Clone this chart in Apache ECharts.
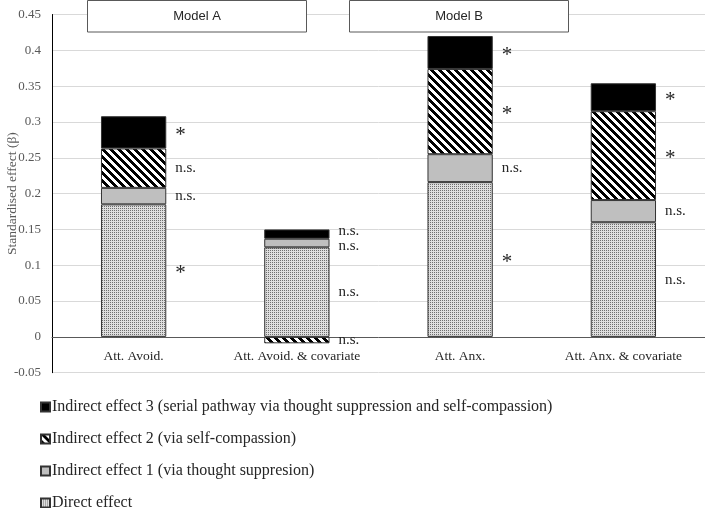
<!DOCTYPE html>
<html>
<head>
<meta charset="utf-8">
<script src="https://cdn.jsdelivr.net/npm/echarts@6/dist/echarts.min.js"></script>
<style>html,body{margin:0;padding:0;background:#fff}#c{width:705px;height:508px}</style>
</head>
<body>
<div id="c"></div>
<script>
const categories = ['Att. Avoid.', 'Att. Avoid. & covariate', 'Att. Anx.', 'Att. Anx. & covariate'];
const seriesNames = [
  'Direct effect',
  'Indirect effect 1 (via thought suppresion)',
  'Indirect effect 2 (via self-compassion)',
  'Indirect effect 3 (serial pathway via thought suppression and self-compassion)'
];
const directEffect = [0.185, 0.125, 0.216, 0.160];
const indirect1 = [0.023, 0.012, 0.039, 0.031];
const indirect2 = [0.055, -0.009, 0.119, 0.124];
const indirect3 = [0.045, 0.013, 0.046, 0.039];
const sigDirect = ['*', 'n.s.', '*', 'n.s.'];
const sigInd1 = ['n.s.', 'n.s.', 'n.s.', 'n.s.'];
const sigInd2 = ['n.s.', 'n.s.', '*', '*'];
const sigInd3 = ['*', 'n.s.', '*', '*'];
const modelLabels = ['Model A', 'Model B'];
const yTicks = { min: -0.05, max: 0.45, interval: 0.05 };

function tile(w, h, fn) {
  const c = document.createElement('canvas');
  c.width = w; c.height = h;
  const ctx = c.getContext('2d');
  for (let y = 0; y < h; y++) for (let x = 0; x < w; x++) {
    ctx.fillStyle = fn(x, y);
    ctx.fillRect(x, y, 1, 1);
  }
  return c;
}
const dotPattern = { image: tile(2, 2, (x, y) => (x === 0 && y === 0) ? '#6e6e6e' : '#dedede'), repeat: 'repeat' };
const hatchPattern = { image: tile(8, 8, (x, y) => (((x - y) % 8 + 8) % 8) < 4 ? '#000000' : '#ffffff'), repeat: 'repeat' };

const serif = '"Liberation Serif", "Times New Roman", serif';
const fills = [dotPattern, '#bfbfbf', hatchPattern, '#000000'];
const values = [directEffect, indirect1, indirect2, indirect3];
const sigs = [sigDirect, sigInd1, sigInd2, sigInd3];

const H = 508, gridTop = 14.5, gridBottom = 135.3;
const gridHeight = H - gridTop - gridBottom;
// place the category axis on the zero line, computed from the value scale
const zeroOffset = -gridHeight * (0 - yTicks.min) / (yTicks.max - yTicks.min);

const chart = echarts.init(document.getElementById('c'), null, { renderer: 'canvas' });
chart.setOption({
  animation: false,
  backgroundColor: '#ffffff',
  grid: { left: 52, right: 0, top: gridTop, bottom: gridBottom, containLabel: false, outerBoundsMode: 'none' },
  xAxis: {
    type: 'category',
    data: categories,
    offset: zeroOffset,
    axisLine: { onZero: false, lineStyle: { color: '#595959', width: 1 } },
    axisTick: { show: false },
    axisLabel: { interval: 0, fontFamily: serif, fontSize: 13.5, color: '#262626', margin: 13 }
  },
  yAxis: {
    type: 'value',
    min: yTicks.min, max: yTicks.max, interval: yTicks.interval,
    name: 'Standardised effect (β)',
    nameLocation: 'middle',
    nameGap: 33,
    nameMoveOverlap: false,
    nameTextStyle: { fontFamily: serif, fontSize: 13.5, color: '#595959' },
    axisLine: { show: true, lineStyle: { color: '#000000', width: 1 } },
    axisTick: { show: false },
    axisLabel: { fontFamily: serif, fontSize: 13, color: '#595959', margin: 11 },
    splitLine: { lineStyle: { color: '#d9d9d9', width: 1 } }
  },
  legend: {
    orient: 'vertical',
    left: 35, top: 394, height: 140,
    itemWidth: 9, itemHeight: 9, itemGap: 16,
    data: [seriesNames[3], seriesNames[2], seriesNames[1], seriesNames[0]],
    textStyle: { fontFamily: serif, fontSize: 16, lineHeight: 16, color: '#262626', padding: [0, 0, 0, -3] },
    icon: 'rect'
  },
  series: values.map((v, i) => ({
    name: seriesNames[i],
    type: 'bar',
    stack: 'total',
    barWidth: '40%',
    data: v,
    itemStyle: { color: fills[i], borderColor: '#333333', borderWidth: 1 },
    label: {
      show: true, position: 'right', distance: 9,
      fontFamily: serif, fontSize: 15, color: '#262626',
      formatter: p => sigs[i][p.dataIndex] === '*' ? '{s|*}' : sigs[i][p.dataIndex],
      rich: { s: { fontFamily: serif, fontSize: 21, color: '#262626', padding: [6, 0, 0, 0] } }
    },
    // thin adjacent segments: spread their labels apart vertically
    labelLayout: p => (p.rect.height < 12 ? { dy: i === 3 ? -3 : (i === 1 ? 3 : 0) } : {})
  })),
  graphic: [
    { type: 'group', left: 87, top: 0, z: 100, children: [
      { type: 'rect', z: 100, shape: { x: 0, y: 0.5, width: 219, height: 31.5 }, style: { fill: '#ffffff', stroke: '#595959', lineWidth: 1 } },
      { type: 'text', z: 101, x: 109.5, y: 16, style: { text: modelLabels[0], font: '13px "Liberation Sans", Arial, sans-serif', fill: '#262626', textAlign: 'center', textVerticalAlign: 'middle' } }
    ] },
    { type: 'group', left: 349, top: 0, z: 100, children: [
      { type: 'rect', z: 100, shape: { x: 0, y: 0.5, width: 219, height: 31.5 }, style: { fill: '#ffffff', stroke: '#595959', lineWidth: 1 } },
      { type: 'text', z: 101, x: 109.5, y: 16, style: { text: modelLabels[1], font: '13px "Liberation Sans", Arial, sans-serif', fill: '#262626', textAlign: 'center', textVerticalAlign: 'middle' } }
    ] }
  ]
});
</script>
</body>
</html>
